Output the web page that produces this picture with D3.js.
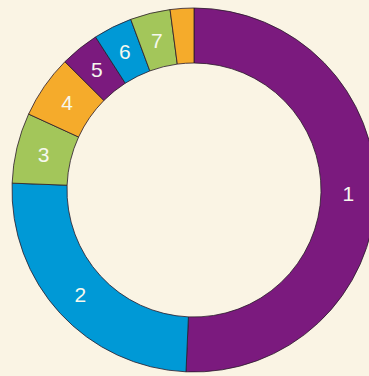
<!DOCTYPE html>
<html>
<head>
<meta charset="utf-8">
<script src="https://cdn.jsdelivr.net/npm/d3@7"></script>
<style>
  html, body { margin: 0; padding: 0; background: #faf4e4; }
  svg { display: block; }
</style>
</head>
<body>
<svg id="chart" width="369" height="376"></svg>
<script>
// Segment labels, shares (percent) and fills, in clockwise order from 12 o'clock
const labels = ["1", "2", "3", "4", "5", "6", "7", ""];
const shares = [50.7, 24.9, 6.25, 5.6, 3.45, 3.45, 3.55, 2.1];
const fills  = ["#7b1a7e", "#0099d6", "#a3c65a", "#f5ab2b", "#7b1a7e", "#0099d6", "#a3c65a", "#f5ab2b"];

const width = 369, height = 376;
const cx = 194, cy = 190;
const outerR = 182, innerR = 127;

const svg = d3.select("#chart");
svg.append("rect").attr("width", width).attr("height", height).attr("fill", "#faf4e4");

const data = shares.map((v, i) => ({ label: labels[i], value: v, fill: fills[i] }));

const pie = d3.pie().sort(null).value(d => d.value);
const arc = d3.arc().innerRadius(innerR).outerRadius(outerR);
const labelArc = d3.arc().innerRadius((innerR + outerR) / 2).outerRadius((innerR + outerR) / 2);

const g = svg.append("g").attr("transform", `translate(${cx},${cy})`);

g.selectAll("path.slice")
  .data(pie(data))
  .join("path")
  .attr("class", "slice")
  .attr("d", arc)
  .attr("fill", d => d.data.fill)
  .attr("stroke", "#2a1a2a")
  .attr("stroke-width", 0.8);

g.selectAll("text.lbl")
  .data(pie(data).filter(d => d.data.label))
  .join("text")
  .attr("class", "lbl")
  .attr("transform", d => `translate(${labelArc.centroid(d)})`)
  .attr("text-anchor", "middle")
  .attr("dy", "0.36em")
  .attr("fill", "#f6f8ee")
  .attr("font-family", "'Liberation Sans', Arial, sans-serif")
  .attr("font-size", 21)
  .text(d => d.data.label);
</script>
</body>
</html>
